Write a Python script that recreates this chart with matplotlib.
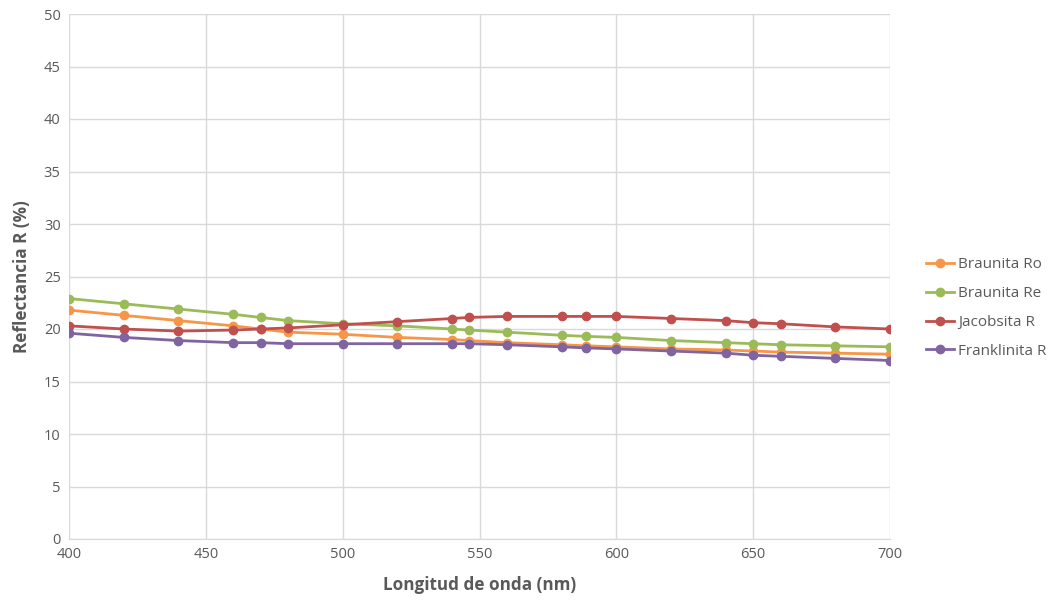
import matplotlib
matplotlib.use("Agg")
import matplotlib.pyplot as plt

plt.rcParams['font.family'] = ['Open Sans', 'DejaVu Sans']

wavelength = [400, 420, 440, 460, 470, 480, 500, 520, 540, 546,
              560, 580, 589, 600, 620, 640, 650, 660, 680, 700]

braunita_ro = [21.8, 21.3, 20.8, 20.3, 20.0, 19.7, 19.5, 19.2, 19.0, 18.9,
               18.7, 18.5, 18.4, 18.3, 18.1, 18.0, 17.9, 17.8, 17.7, 17.6]
braunita_re = [22.9, 22.4, 21.9, 21.4, 21.1, 20.8, 20.5, 20.3, 20.0, 19.9,
               19.7, 19.4, 19.3, 19.2, 18.9, 18.7, 18.6, 18.5, 18.4, 18.3]
jacobsita_r = [20.3, 20.0, 19.8, 19.9, 20.0, 20.1, 20.4, 20.7, 21.0, 21.1,
               21.2, 21.2, 21.2, 21.2, 21.0, 20.8, 20.6, 20.5, 20.2, 20.0]
franklinita_r = [19.6, 19.2, 18.9, 18.7, 18.7, 18.6, 18.6, 18.6, 18.6, 18.6,
                 18.5, 18.3, 18.2, 18.1, 17.9, 17.7, 17.5, 17.4, 17.2, 17.0]

series = [
    ("Braunita Ro", braunita_ro, "#F79646"),
    ("Braunita Re", braunita_re, "#9BBB59"),
    ("Jacobsita R", jacobsita_r, "#C0504D"),
    ("Franklinita R", franklinita_r, "#8064A2"),
]

fig = plt.figure(figsize=(10.51, 6.05), dpi=100)
ax = fig.add_axes([69 / 1051, 1 - 539 / 605, (890 - 69) / 1051, (539 - 14) / 605])

for name, vals, col in series:
    ax.plot(wavelength, vals, color=col, lw=2, marker='o', ms=6, label=name)

ax.set_xlim(400, 700)
ax.set_ylim(0, 50)
ax.set_xticks(range(400, 701, 50))
ax.set_yticks(range(0, 51, 5))
ax.grid(True, color='#d9d9d9', lw=1)
ax.set_axisbelow(True)
for s in ['top', 'right', 'left']:
    ax.spines[s].set_visible(False)
ax.spines['bottom'].set_color('#d9d9d9')
ax.tick_params(length=0, labelsize=10.5, colors='#595959', pad=6)

ax.set_xlabel("Longitud de onda (nm)", fontsize=12.3, fontweight='bold', color='#595959', labelpad=10)
ax.set_ylabel("Reflectancia R (%)", fontsize=12.3, fontweight='bold', color='#595959', labelpad=9)

leg = ax.legend(loc='center left', bbox_to_anchor=(1.037, 0.44), frameon=False,
                fontsize=11, labelspacing=0.9, handlelength=1.8, handletextpad=0.25,
                borderaxespad=0)
for t in leg.get_texts():
    t.set_color('#595959')

fig.savefig("out.png", dpi=100)
